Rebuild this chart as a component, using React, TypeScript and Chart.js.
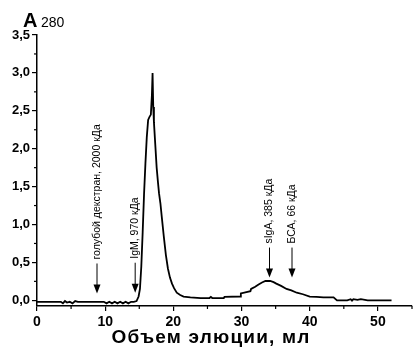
import React, { useEffect, useRef } from "react";
import { Chart, registerables } from "chart.js";

Chart.register(...registerables);

// Elution volume (ml) and absorbance A280
const elutionX = [
  0, 3.5, 3.8, 4.1, 4.4, 4.8, 5.2, 5.6, 6.0, 6.5, 9.8, 10.2, 10.6, 11.0, 11.4, 11.8, 12.2, 12.6, 13.0, 13.4,
  13.8, 14.2, 14.6, 14.9, 15.1, 15.3, 15.5, 15.7, 15.9, 16.1, 16.3, 16.5, 16.7, 16.85, 16.95, 17.05, 17.15,
  17.35, 17.55, 17.75, 17.9, 18.1, 18.3, 18.6, 18.9, 19.2, 19.5, 19.8, 20.1, 20.5, 21.0, 21.5, 22.5, 24.0,
  25.3, 25.5, 25.7, 27.4, 27.5, 29.8, 29.9, 31.3, 31.4, 32.0, 32.5, 33.0, 33.5, 34.2, 34.7, 35.1, 35.8, 36.6,
  37.3, 38.1, 39.0, 40.0, 41.0, 42.0, 43.5, 44.0, 45.5, 46.0, 46.2, 46.4, 47.0, 47.5, 48.5, 49.0, 52.0,
];
const absorbance = [
  -0.02, -0.02, -0.04, -0.01, -0.03, -0.02, -0.04, -0.01, -0.02, -0.02, -0.02, -0.04, -0.02, -0.04, -0.02,
  -0.04, -0.02, -0.04, -0.02, -0.04, -0.02, -0.02, -0.01, 0.05, 0.15, 0.45, 0.9, 1.4, 1.8, 2.15, 2.38, 2.42,
  2.45, 2.7, 3.0, 2.55, 2.35, 2.05, 1.75, 1.55, 1.41, 1.28, 1.1, 0.84, 0.6, 0.42, 0.3, 0.22, 0.16, 0.1, 0.07,
  0.05, 0.04, 0.03, 0.03, 0.045, 0.03, 0.03, 0.045, 0.05, 0.09, 0.12, 0.15, 0.18, 0.21, 0.235, 0.255, 0.255,
  0.24, 0.22, 0.19, 0.15, 0.13, 0.1, 0.08, 0.05, 0.045, 0.04, 0.04, 0.0, 0.0, 0.015, -0.005, 0.015, 0.005,
  0.015, 0.0, 0.0, 0.0,
];

const xTickValues = [0, 10, 20, 30, 40, 50];
const xMinorValues = [5, 15, 25, 35, 45, 55];
const yTickValues = [0, 0.5, 1, 1.5, 2, 2.5, 3, 3.5];
const yMinorValues = [0.25, 0.75, 1.25, 1.75, 2.25, 2.75, 3.25];

// Marker arrows (standards)
const markerLabels = ["голубой декстран, 2000 кДа", "IgM, 970 кДа", "sIgA, 385 кДа", "БСА, 66 кДа"];
const markerX = [8.8, 14.4, 34.1, 37.4];
const markerTipY = [0.09, 0.1, 0.3, 0.3];

const xTitle = "Объем элюции, мл";

const FONT = "'Liberation Sans', Arial, sans-serif";

export default function App() {
  const ref = useRef<HTMLCanvasElement | null>(null);

  useEffect(() => {
    document.body.style.margin = "0";
    const canvas = ref.current;
    if (!canvas) return;

    const overlay = {
      id: "overlay",
      afterDraw(chart: any) {
        const ctx = chart.ctx as CanvasRenderingContext2D;
        const xs = chart.scales.x;
        const ys = chart.scales.y;
        const area = chart.chartArea;
        ctx.save();
        ctx.strokeStyle = "#000";
        ctx.fillStyle = "#000";
        ctx.lineWidth = 1.2;
        // minor ticks
        xMinorValues.forEach((v) => {
          const px = xs.getPixelForValue(v);
          if (px > area.right + 1) return;
          ctx.beginPath();
          ctx.moveTo(px, area.bottom);
          ctx.lineTo(px, area.bottom + 3);
          ctx.stroke();
        });
        yMinorValues.forEach((v) => {
          const py = ys.getPixelForValue(v);
          ctx.beginPath();
          ctx.moveTo(area.left, py);
          ctx.lineTo(area.left - 3, py);
          ctx.stroke();
        });

        // markers
        markerLabels.forEach((label, i) => {
          const px = xs.getPixelForValue(markerX[i]);
          const tip = ys.getPixelForValue(markerTipY[i]);
          const shaftTop = tip - 30;
          ctx.lineWidth = 1;
          ctx.beginPath();
          ctx.moveTo(px, shaftTop);
          ctx.lineTo(px, tip - 8);
          ctx.stroke();
          ctx.beginPath();
          ctx.moveTo(px - 3.5, tip - 9);
          ctx.lineTo(px + 3.5, tip - 9);
          ctx.lineTo(px, tip);
          ctx.closePath();
          ctx.fill();
          ctx.save();
          ctx.translate(px, shaftTop - 4);
          ctx.rotate(-Math.PI / 2);
          ctx.font = `10.5px ${FONT}`;
          ctx.textAlign = "left";
          ctx.textBaseline = "middle";
          ctx.fillText(label, 0, 0);
          ctx.restore();
        });

        // axis title
        ctx.font = `bold 19px ${FONT}`;
        try {
          (ctx as any).letterSpacing = "1.2px";
        } catch (e) {}
        ctx.textAlign = "center";
        ctx.textBaseline = "middle";
        ctx.fillText(xTitle, 211, 338);
        try {
          (ctx as any).letterSpacing = "0px";
        } catch (e) {}

        // A280
        ctx.textAlign = "left";
        ctx.textBaseline = "alphabetic";
        ctx.font = `bold 20px ${FONT}`;
        ctx.fillText("A", 23, 27);
        ctx.font = `14px ${FONT}`;
        ctx.fillText("280", 41, 27);
        ctx.restore();
      },
    };

    const chart = new Chart(canvas, {
      type: "line",
      data: {
        datasets: [
          {
            data: elutionX.map((x, i) => ({ x, y: absorbance[i] })),
            borderColor: "#000",
            borderWidth: 1.8,
            pointRadius: 0,
            tension: 0,
            fill: false,
          },
        ],
      },
      options: {
        animation: false,
        responsive: false,
        events: [],
        layout: { padding: { top: 35, right: 2, left: 0, bottom: 0 } },
        plugins: { legend: { display: false }, tooltip: { enabled: false }, title: { display: false } },
        scales: {
          x: {
            type: "linear",
            min: 0,
            max: 55,
            afterBuildTicks: (scale: any) => {
              scale.ticks = xTickValues.map((v) => ({ value: v }));
            },
            afterFit: (scale: any) => {
              scale.height = 41;
            },
            ticks: {
              color: "#000",
              font: { family: FONT, size: 14, weight: "bold" },
              padding: 3,
              maxRotation: 0,
              autoSkip: false,
              callback: (v: any) => String(v),
            },
            grid: { drawOnChartArea: false, drawTicks: true, tickLength: 5, color: "#000", lineWidth: 1.2 },
            border: { display: true, color: "#000", width: 1.5 },
          },
          y: {
            type: "linear",
            min: -0.075,
            max: 3.5,
            afterBuildTicks: (scale: any) => {
              scale.ticks = yTickValues.map((v) => ({ value: v }));
            },
            afterFit: (scale: any) => {
              scale.width = 37;
            },
            ticks: {
              color: "#000",
              font: { family: FONT, size: 13, weight: "bold" },
              padding: 2,
              autoSkip: false,
              callback: (v: any) => Number(v).toFixed(1).replace(".", ","),
            },
            grid: { drawOnChartArea: false, drawTicks: true, tickLength: 5, color: "#000", lineWidth: 1.2 },
            border: { display: true, color: "#000", width: 1.5 },
          },
        },
      },
      plugins: [overlay],
    });

    return () => chart.destroy();
  }, []);

  return (
    <div style={{ width: 414, height: 347, background: "#fff" }}>
      <canvas ref={ref} width={414} height={347} style={{ display: "block" }} />
    </div>
  );
}
